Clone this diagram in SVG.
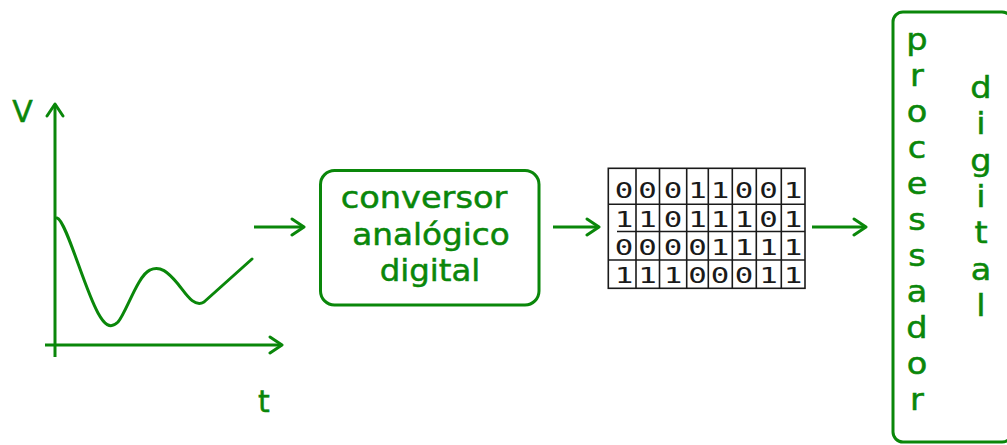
<svg xmlns="http://www.w3.org/2000/svg" width="1007" height="445" viewBox="0 0 1007 445">
  <style>
    .g { fill: none; stroke: #0a870a; stroke-width: 3; }
    .lbl { font-family: "DejaVu Sans", Verdana, sans-serif; fill: #0a870a; stroke: #0a870a; stroke-width: 0.5; font-size: 30px; text-anchor: middle; }
    .grid { fill: none; stroke: #1a1a1a; stroke-width: 1.6; }
    .dig { font-family: "DejaVu Sans Mono", "Liberation Mono", monospace; font-size: 22px; fill: #1a1a1a; text-anchor: middle; }
  </style>
  <defs>
    <marker id="ah" viewBox="-16 -10 18 20" refX="0" refY="0" markerWidth="18" markerHeight="20" orient="auto" markerUnits="userSpaceOnUse">
      <path d="M-12,-8 L0,0 L-12,8" fill="none" stroke="#0a870a" stroke-width="3" stroke-linejoin="round" stroke-linecap="round"/>
    </marker>
  </defs>
  <rect width="1007" height="445" fill="#ffffff"/>

  <g id="graph">
    <line class="g" x1="55" y1="357" x2="55" y2="104" marker-end="url(#ah)"/>
    <line class="g" x1="45" y1="345" x2="282" y2="345" marker-end="url(#ah)"/>
    <text class="lbl" x="22.5" y="122" font-size="32">V</text>
    <text class="lbl" x="264" y="412">t</text>
    <path class="g" stroke-width="5" stroke-linejoin="round" stroke-linecap="round" d="M57,218 C66,220 84,288 98,313 C104,324 110,330 118,322 C126,313 138,275 150,270 C160,265 168,272 178,284 C186,294 194,308 204,302 L252,259"/>
  </g>

  <g id="connectors">
    <line class="g" x1="254" y1="227" x2="304" y2="227" marker-end="url(#ah)"/>
    <line class="g" x1="553" y1="227" x2="599" y2="227" marker-end="url(#ah)"/>
    <line class="g" x1="812" y1="227" x2="866" y2="227" marker-end="url(#ah)"/>
  </g>

  <g id="conversor">
    <rect class="g" x="320.5" y="170.5" width="218.5" height="134.5" rx="14"/>
    <g transform="translate(424,0) scale(1.12,1)">
      <text class="lbl" x="0" y="208">conversor</text>
    </g>
    <g transform="translate(431,0) scale(1.09,1)">
      <text class="lbl" x="0" y="245">analógico</text>
    </g>
    <g transform="translate(430,0) scale(1.08,1)">
      <text class="lbl" x="0" y="281.5">digital</text>
    </g>
  </g>

  <g id="bits">
    <rect class="grid" x="608.3" y="168.3" width="196.7" height="120"/>
    <line class="grid" x1="608.3" y1="204.3" x2="805" y2="204.3"/>
    <line class="grid" x1="617" y1="231.5" x2="805" y2="231.5"/>
    <line class="grid" x1="608.3" y1="260" x2="805" y2="260"/>
    <line class="grid" x1="636" y1="168.3" x2="636" y2="288.3"/>
    <line class="grid" x1="659.5" y1="168.3" x2="659.5" y2="288.3"/>
    <line class="grid" x1="686.7" y1="168.3" x2="686.7" y2="288.3"/>
    <line class="grid" x1="708.3" y1="168.3" x2="708.3" y2="288.3"/>
    <line class="grid" x1="732.3" y1="168.3" x2="732.3" y2="288.3"/>
    <line class="grid" x1="756.3" y1="168.3" x2="756.3" y2="288.3"/>
    <line class="grid" x1="781.3" y1="168.3" x2="781.3" y2="288.3"/>
    <g transform="scale(1.4,1)">
      <text class="dig" x="445.7 462.5 480.7 498.2 514.3 531.4 548.9 566.4" y="198.5">00011001</text>
      <text class="dig" x="445.7 462.5 480.7 498.2 514.3 531.4 548.9 566.4" y="227">11011101</text>
      <text class="dig" x="445.7 462.5 480.7 498.2 514.3 531.4 548.9 566.4" y="255">00001111</text>
      <text class="dig" x="445.7 462.5 480.7 498.2 514.3 531.4 548.9 566.4" y="283.5">11100011</text>
    </g>
  </g>

  <g id="processador">
    <rect class="g" x="893" y="12" width="119" height="430" rx="10"/>
    <g transform="translate(917,0) scale(1.12,1)">
      <text class="lbl" x="0" y="50">p</text>
      <text class="lbl" x="0" y="86">r</text>
      <text class="lbl" x="0" y="122">o</text>
      <text class="lbl" x="0" y="158">c</text>
      <text class="lbl" x="0" y="194">e</text>
      <text class="lbl" x="0" y="230">s</text>
      <text class="lbl" x="0" y="266">s</text>
      <text class="lbl" x="0" y="302">a</text>
      <text class="lbl" x="0" y="338">d</text>
      <text class="lbl" x="0" y="374">o</text>
      <text class="lbl" x="0" y="410">r</text>
    </g>
    <g transform="translate(981,0) scale(1.12,1)">
      <text class="lbl" x="0" y="98">d</text>
      <text class="lbl" x="0" y="134.5">i</text>
      <text class="lbl" x="0" y="171">g</text>
      <text class="lbl" x="0" y="207">i</text>
      <text class="lbl" x="0" y="243.5">t</text>
      <text class="lbl" x="0" y="280">a</text>
      <text class="lbl" x="0" y="316.5">l</text>
    </g>
  </g>
</svg>
